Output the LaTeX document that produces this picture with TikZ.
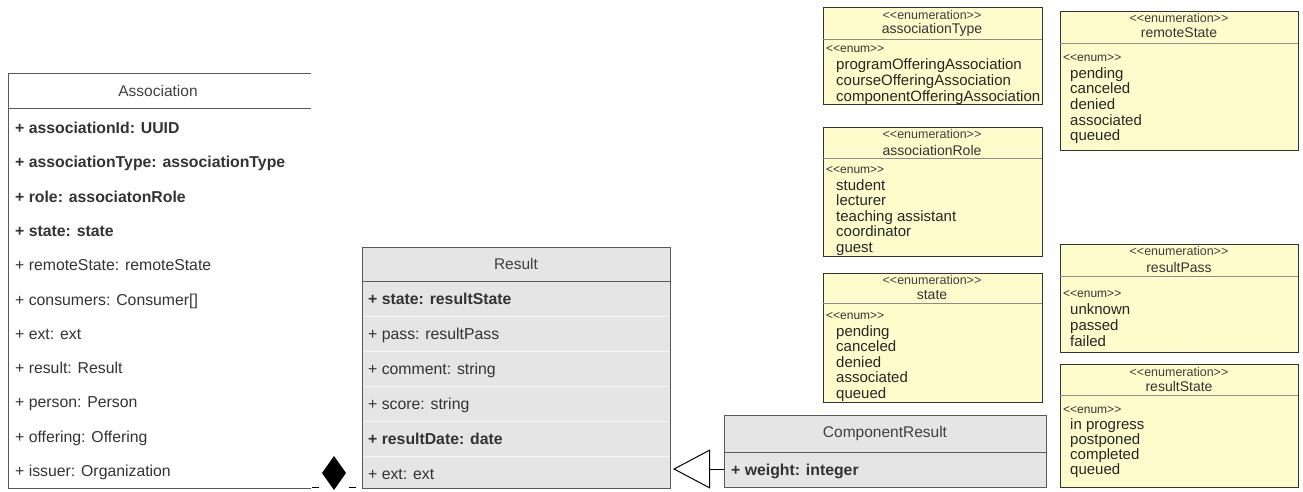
\documentclass[tikz,border=0pt]{standalone}
\usepackage{fontspec}
\setmainfont{Liberation Sans}[Ligatures=TeXOff]
\usetikzlibrary{arrows.meta}
\begin{document}
\begin{tikzpicture}[
    x=1pt, y=-1pt,
    clsline/.style={draw=black!65, line width=0.9pt},
    rowline/.style={draw=black!3, line width=0.8pt},
    title/.style={font=\fontsize{15.5}{17}\selectfont, text=black!75, inner sep=0pt},
    attr/.style={anchor=base west, font=\fontsize{15.8}{17}\selectfont, text=black!80, inner sep=0pt},
    enumbox/.style={draw=black!80, fill=yellow!20, line width=0.8pt},
    enumline/.style={draw=black!45, line width=0.8pt},
    stereo/.style={font=\fontsize{12.5}{14}\selectfont, text=black!75, inner sep=0pt},
    enumname/.style={font=\fontsize{14}{16}\selectfont, text=black!80, inner sep=0pt},
    enumtag/.style={anchor=base west, font=\fontsize{12}{14}\selectfont, text=black!80, inner sep=0pt},
    enumitem/.style={anchor=base west, font=\fontsize{15}{16}\selectfont, text=black!85, inner sep=0pt},
    gen/.style={line width=1pt, -{Triangle[open, length=37pt, width=39pt, line width=1pt]}},
    >=stealth
]
\useasboundingbox (0,0) rectangle (1303,491);

% Association
\draw[clsline] (311,73) -- (8,73) -- (8,488) -- (311,488);
\draw[clsline] (8,108) -- (311,108);
\node[title] (assoc) at (158,91) {Association};
\foreach \txt [count=\i] in {\textbf{+ associationId: UUID}, \textbf{+ associationType: associationType},
    \textbf{+ role: associatonRole}, \textbf{+ state: state}, {+ remoteState: remoteState},
    {+ consumers: Consumer[]}, {+ ext: ext}, {+ result: Result}, {+ person: Person},
    {+ offering: Offering}, {+ issuer: Organization}}
  \node[attr] (assoc\i) at (15,{133.5+34.3*(\i-1)}) {\txt};

% Result
\filldraw[clsline, fill=black!10] (362,247) rectangle (670,488);
\draw[clsline] (362,281) -- (670,281);
\foreach \y in {316,351,386,421,456}
  \draw[rowline] (363,\y) -- (669,\y);
\node[title] (result) at (516,264) {Result};
\foreach \txt [count=\i] in {\textbf{+ state: resultState}, {+ pass: resultPass}, {+ comment: string},
    {+ score: string}, \textbf{+ resultDate: date}, {+ ext: ext}}
  \node[attr] (result\i) at (368,{304+35*(\i-1)}) {\txt};

% ComponentResult
\filldraw[clsline, fill=black!10] (724,415) rectangle (1046,487);
\draw[clsline] (724,452) -- (1046,452);
\node[title] (comp) at (885,433) {ComponentResult};
\node[attr] (weight) at (731,475.5) {\textbf{+ weight: integer}};

% composition and generalization
\coordinate (compL1) at (312,487);
\coordinate (compL2) at (319,487);
\coordinate (compR1) at (349,487);
\coordinate (compR2) at (356,487);
\draw[line width=1pt] (compL1) -- (compL2);
\draw[line width=1pt] (compR1) -- (compR2);
\coordinate (dia) at (334,473);
\fill (dia) ++(0,-17) -- ++(12,17) -- ++(-12,17) -- ++(-12,-17) -- cycle;
\coordinate (genS) at (724,469);
\coordinate (genT) at (673,469);
\draw[gen] (genS) -- (genT);

% associationType
\filldraw[enumbox] (823,7) rectangle (1042,104);
\draw[enumline] (823,39) -- (1042,39);
\node[stereo] (atypeSt) at (932,15) {<<enumeration>>};
\node[enumname] (atype) at (932,30) {associationType};
\node[enumtag] (atypeTag) at (826,52) {<<enum>>};
\foreach \txt [count=\i] in {programOfferingAssociation, courseOfferingAssociation, componentOfferingAssociation}
  \node[enumitem] at (836,{69+16*(\i-1)}) {\txt};

% remoteState
\filldraw[enumbox] (1060,11) rectangle (1298,150);
\draw[enumline] (1060,43) -- (1298,43);
\node[stereo] (rstateSt) at (1179,18) {<<enumeration>>};
\node[enumname] (rstate) at (1179,33) {remoteState};
\node[enumtag] (rstateTag) at (1063,61) {<<enum>>};
\foreach \txt [count=\i] in {pending, canceled, denied, associated, queued}
  \node[enumitem] at (1070,{78+15.7*(\i-1)}) {\txt};

% associationRole
\filldraw[enumbox] (823,127) rectangle (1042,256);
\draw[enumline] (823,158) -- (1042,158);
\node[stereo] (aroleSt) at (932,134) {<<enumeration>>};
\node[enumname] (arole) at (932,150) {associationRole};
\node[enumtag] (aroleTag) at (826,173) {<<enum>>};
\foreach \txt [count=\i] in {student, lecturer, teaching assistant, coordinator, guest}
  \node[enumitem] at (836,{190+15.5*(\i-1)}) {\txt};

% state
\filldraw[enumbox] (823,273) rectangle (1042,402);
\draw[enumline] (823,303) -- (1042,303);
\node[stereo] (stateSt) at (932,280) {<<enumeration>>};
\node[enumname] (state) at (932,295) {state};
\node[enumtag] (stateTag) at (826,319) {<<enum>>};
\foreach \txt [count=\i] in {pending, canceled, denied, associated, queued}
  \node[enumitem] at (836,{336+15.5*(\i-1)}) {\txt};

% resultPass
\filldraw[enumbox] (1060,244) rectangle (1298,352);
\draw[enumline] (1060,276) -- (1298,276);
\node[stereo] (rpassSt) at (1179,251) {<<enumeration>>};
\node[enumname] (rpass) at (1179,267) {resultPass};
\node[enumtag] (rpassTag) at (1063,297) {<<enum>>};
\foreach \txt [count=\i] in {unknown, passed, failed}
  \node[enumitem] at (1070,{314+16*(\i-1)}) {\txt};

% resultState
\filldraw[enumbox] (1060,364) rectangle (1298,487);
\draw[enumline] (1060,395) -- (1298,395);
\node[stereo] (rresSt) at (1179,372) {<<enumeration>>};
\node[enumname] (rres) at (1179,386) {resultState};
\node[enumtag] (rresTag) at (1063,413) {<<enum>>};
\foreach \txt [count=\i] in {in progress, postponed, completed, queued}
  \node[enumitem] at (1070,{429+15*(\i-1)}) {\txt};
\end{tikzpicture}
\end{document}
